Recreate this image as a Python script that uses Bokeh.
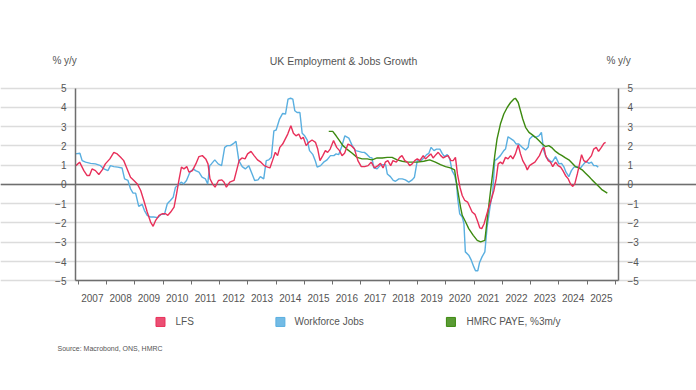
from bokeh.plotting import figure
from bokeh.models import (Range1d, LinearAxis, FixedTicker, CustomJSTickFormatter,
                          Label, Grid)
from bokeh.embed import file_html
from bokeh.resources import INLINE

# ---------------- data (decimal years, % y/y) ----------------
lfs_t = [2006.92, 2007.05, 2007.20, 2007.31, 2007.40, 2007.49, 2007.61, 2007.73, 2007.85, 2007.96,
         2008.12, 2008.26, 2008.38, 2008.50, 2008.61, 2008.73, 2008.85, 2008.97, 2009.09, 2009.21,
         2009.32, 2009.44, 2009.56, 2009.65, 2009.74, 2009.86, 2009.97, 2010.09, 2010.17, 2010.27,
         2010.39, 2010.48, 2010.56, 2010.65, 2010.74, 2010.84, 2010.92, 2011.04, 2011.16, 2011.27,
         2011.39, 2011.51, 2011.59, 2011.66, 2011.75, 2011.84, 2011.96, 2012.08, 2012.16, 2012.24,
         2012.36, 2012.51, 2012.60, 2012.69, 2012.79, 2012.90, 2012.99, 2013.11, 2013.22, 2013.34,
         2013.46, 2013.58, 2013.70, 2013.78, 2013.87, 2013.97, 2014.05, 2014.13, 2014.23, 2014.32,
         2014.41, 2014.52, 2014.61, 2014.70, 2014.80, 2014.88, 2014.96, 2015.06, 2015.15, 2015.27,
         2015.39, 2015.47, 2015.55, 2015.65, 2015.74, 2015.82, 2015.91, 2016.03, 2016.14, 2016.24,
         2016.33, 2016.42, 2016.54, 2016.65, 2016.77, 2016.89, 2017.01, 2017.13, 2017.25, 2017.36,
         2017.48, 2017.60, 2017.69, 2017.78, 2017.86, 2017.95, 2018.05, 2018.13, 2018.25, 2018.37,
         2018.45, 2018.55, 2018.64, 2018.72, 2018.81, 2018.90, 2018.99, 2019.08, 2019.20, 2019.28,
         2019.37, 2019.47, 2019.55, 2019.65, 2019.73, 2019.82, 2019.91, 2019.99, 2020.08, 2020.18,
         2020.26, 2020.34, 2020.41, 2020.50, 2020.58, 2020.67, 2020.77, 2020.85, 2020.93, 2021.03,
         2021.12, 2021.20, 2021.27, 2021.35, 2021.42, 2021.49, 2021.58, 2021.70, 2021.78, 2021.85,
         2021.93, 2022.01, 2022.11, 2022.20, 2022.29, 2022.37, 2022.46, 2022.56, 2022.64, 2022.72,
         2022.82, 2022.88, 2022.96, 2023.05, 2023.15, 2023.23, 2023.31, 2023.41, 2023.47, 2023.53,
         2023.62, 2023.70, 2023.78, 2023.88, 2023.97, 2024.06, 2024.14, 2024.23, 2024.33, 2024.41,
         2024.49, 2024.56, 2024.65, 2024.73, 2024.80, 2024.88, 2024.96, 2025.06, 2025.15, 2025.23,
         2025.32, 2025.40, 2025.50, 2025.59, 2025.65]
lfs_v = [0.98, 1.16, 0.72, 0.47, 0.47, 0.81, 0.72, 0.52, 0.76, 1.07,
         1.33, 1.67, 1.59, 1.41, 1.24, 0.81, 0.38, 0.21, 0.03, -0.31,
         -0.83, -1.43, -1.95, -2.17, -1.86, -1.60, -1.52, -1.52, -1.60, -1.43,
         -1.17, -0.48, 0.21, 0.90, 0.81, 0.93, 0.64, 0.72, 1.07, 1.45,
         1.50, 1.33, 1.07, 0.30, 0.03, -0.14, 0.21, 0.24, 0.12, -0.14,
         0.12, 0.21, 0.72, 1.24, 1.38, 1.33, 1.59, 1.72, 1.50, 1.28,
         1.16, 0.98, 0.90, 0.86, 1.24, 1.67, 1.50, 1.93, 2.10, 2.36,
         2.62, 3.05, 2.66, 2.53, 2.62, 2.36, 2.45, 2.02, 2.19, 2.31,
         2.19, 1.84, 1.24, 1.50, 1.76, 1.67, 1.84, 2.28, 1.93, 1.76,
         1.50, 1.62, 2.10, 2.02, 1.84, 1.24, 0.93, 0.93, 0.98, 1.16,
         0.86, 0.98, 1.10, 0.86, 1.16, 1.24, 0.98, 1.24, 1.16, 1.41,
         1.50, 1.24, 1.16, 0.98, 1.07, 1.24, 1.33, 1.24, 1.50, 1.33,
         1.45, 1.59, 1.38, 1.55, 1.67, 1.50, 1.38, 1.45, 1.50, 1.24,
         1.24, 1.41, 0.55, -0.14, -0.57, -0.83, -0.91, -1.17, -1.43, -1.55,
         -1.90, -2.25, -2.29, -2.05, -1.69, -1.34, -0.91, -0.31, 0.29, 1.07,
         1.16, 1.07, 1.41, 1.33, 1.50, 1.33, 1.59, 2.05, 1.59, 1.24,
         0.98, 0.76, 0.98, 1.07, 1.16, 1.33, 1.50, 1.84, 1.93, 1.50,
         1.24, 1.16, 0.93, 1.16, 0.98, 0.90, 0.72, 0.47, 0.29, 0.03,
         -0.10, 0.03, 0.55, 1.07, 1.55, 1.24, 1.16, 1.33, 1.50, 1.84,
         1.93, 1.72, 1.93, 2.14, 2.19]

wfj_t = [2006.90, 2007.06, 2007.14, 2007.26, 2007.44, 2007.61, 2007.79, 2007.91, 2008.05, 2008.14,
         2008.26, 2008.40, 2008.55, 2008.64, 2008.76, 2008.85, 2008.94, 2009.03, 2009.14, 2009.26,
         2009.34, 2009.44, 2009.56, 2009.67, 2009.82, 2009.93, 2010.05, 2010.15, 2010.26, 2010.36,
         2010.44, 2010.52, 2010.64, 2010.73, 2010.83, 2010.95, 2011.07, 2011.15, 2011.27, 2011.38,
         2011.50, 2011.58, 2011.65, 2011.71, 2011.83, 2011.95, 2012.07, 2012.18, 2012.27, 2012.38,
         2012.50, 2012.58, 2012.68, 2012.80, 2012.91, 2013.03, 2013.15, 2013.24, 2013.36, 2013.44,
         2013.56, 2013.65, 2013.74, 2013.83, 2013.92, 2014.00, 2014.12, 2014.23, 2014.33, 2014.42,
         2014.51, 2014.59, 2014.66, 2014.74, 2014.84, 2014.92, 2015.01, 2015.10, 2015.18, 2015.30,
         2015.39, 2015.45, 2015.57, 2015.68, 2015.80, 2015.92, 2016.04, 2016.12, 2016.21, 2016.31,
         2016.43, 2016.57, 2016.69, 2016.81, 2016.92, 2017.04, 2017.12, 2017.22, 2017.31, 2017.39,
         2017.45, 2017.57, 2017.67, 2017.78, 2017.87, 2017.93, 2018.04, 2018.14, 2018.22, 2018.34,
         2018.46, 2018.57, 2018.69, 2018.81, 2018.89, 2018.99, 2019.10, 2019.22, 2019.32, 2019.40,
         2019.48, 2019.58, 2019.67, 2019.79, 2019.87, 2019.95, 2020.05, 2020.14, 2020.22, 2020.31,
         2020.38, 2020.42, 2020.49, 2020.58, 2020.64, 2020.69, 2020.81, 2020.90, 2020.99, 2021.05,
         2021.13, 2021.19, 2021.28, 2021.38, 2021.46, 2021.58, 2021.66, 2021.73, 2021.81, 2021.93,
         2022.05, 2022.11, 2022.20, 2022.32, 2022.40, 2022.49, 2022.58, 2022.70, 2022.82, 2022.91,
         2022.96, 2023.08, 2023.17, 2023.29, 2023.38, 2023.46, 2023.55, 2023.67, 2023.76, 2023.88,
         2024.00, 2024.09, 2024.17, 2024.25, 2024.35, 2024.44, 2024.53, 2024.64, 2024.76, 2024.88,
         2024.96, 2025.06, 2025.15, 2025.23, 2025.32, 2025.39]
wfj_v = [1.59, 1.62, 1.24, 1.16, 1.10, 1.07, 0.98, 0.81, 0.72, 0.98,
         0.93, 0.90, 0.86, 0.29, 0.21, -0.22, -0.45, -0.45, -1.14, -1.03,
         -1.34, -1.60, -1.69, -1.69, -1.72, -1.55, -1.55, -1.00, -0.83, -0.66,
         -0.14, -0.05, 0.12, 0.03, 0.21, 0.64, 0.81, 0.72, 0.64, 0.38,
         0.29, 0.03, 0.98, 1.07, 1.28, 1.07, 0.98, 1.93, 2.02, 2.02,
         2.14, 2.24, 1.24, 0.93, 0.81, 0.98, 0.55, 0.21, 0.24, 0.41,
         0.29, 1.24, 1.28, 1.41, 2.79, 2.83, 3.40, 3.69, 3.66, 4.43,
         4.48, 4.43, 3.83, 3.74, 3.74, 2.66, 2.53, 2.31, 1.76, 1.55,
         1.21, 0.90, 0.98, 1.16, 1.28, 1.50, 1.50, 1.59, 1.55, 1.93,
         2.53, 2.41, 2.02, 1.76, 1.72, 1.67, 1.67, 1.55, 1.41, 1.38,
         0.86, 0.81, 0.98, 1.03, 1.03, 0.55, 0.41, 0.21, 0.17, 0.29,
         0.29, 0.24, 0.12, 0.24, 0.38, 1.24, 1.21, 1.38, 1.55, 1.62,
         1.93, 1.76, 1.84, 1.84, 1.62, 1.45, 1.55, 1.33, 0.72, 0.47,
         0.03, -0.74, -1.52, -1.69, -2.03, -3.50, -3.67, -3.93, -4.28, -4.48,
         -4.48, -4.07, -3.76, -3.50, -2.21, -1.00, -0.40, 1.24, 1.33, 1.50,
         1.76, 1.84, 2.48, 2.36, 2.28, 2.10, 2.10, 1.93, 1.79, 1.93,
         2.36, 2.53, 2.45, 2.53, 2.71, 1.76, 1.41, 1.24, 1.16, 1.45,
         1.07, 1.10, 0.93, 0.64, 0.41, 0.72, 0.90, 0.93, 0.86, 1.07,
         1.21, 1.10, 1.16, 0.98, 0.98, 0.90]

paye_t = [2015.86, 2016.00, 2016.12, 2016.24, 2016.36, 2016.50, 2016.69, 2016.86, 2017.04, 2017.22,
          2017.39, 2017.57, 2017.75, 2017.93, 2018.10, 2018.28, 2018.46, 2018.63, 2018.81, 2018.99,
          2019.22, 2019.43, 2019.63, 2019.81, 2019.99, 2020.16, 2020.31, 2020.40, 2020.52, 2020.58,
          2020.70, 2020.81, 2020.97, 2021.11, 2021.23, 2021.38, 2021.46, 2021.54, 2021.64, 2021.73,
          2021.81, 2021.93, 2022.05, 2022.17, 2022.29, 2022.40, 2022.46, 2022.56, 2022.64, 2022.72,
          2022.82, 2022.94, 2023.05, 2023.17, 2023.29, 2023.41, 2023.52, 2023.64, 2023.76, 2023.88,
          2024.00, 2024.11, 2024.23, 2024.35, 2024.47, 2024.58, 2024.70, 2024.82, 2024.94, 2025.06,
          2025.17, 2025.29, 2025.41, 2025.53, 2025.71]
paye_v = [2.76, 2.76, 2.53, 2.28, 2.02, 1.84, 1.62, 1.41, 1.33, 1.33,
          1.28, 1.38, 1.38, 1.41, 1.41, 1.28, 1.21, 1.16, 1.16, 1.16,
          1.21, 1.28, 1.16, 1.03, 0.93, 0.86, 0.76, -0.14, -1.17, -1.60,
          -1.95, -2.29, -2.64, -2.90, -2.98, -2.90, -1.86, -0.83, 0.38, 1.50,
          2.36, 3.14, 3.66, 4.00, 4.26, 4.43, 4.48, 4.26, 3.83, 3.40,
          2.97, 2.71, 2.59, 2.45, 2.28, 2.10, 1.97, 2.02, 1.90, 1.72,
          1.59, 1.50, 1.38, 1.28, 1.10, 0.93, 0.86, 0.76, 0.59, 0.41,
          0.24, 0.07, -0.10, -0.28, -0.45]

years = list(range(2007, 2026))
y_ticks = [-5, -4, -3, -2, -1, 0, 1, 2, 3, 4, 5]
series_names = ["LFS", "Workforce Jobs", "HMRC PAYE, %3m/y"]
title_text = "UK Employment & Jobs Growth"
unit_text = "% y/y"
source_text = "Source: Macrobond, ONS, HMRC"

# ---------------- styling / layout ----------------
C_LFS = "#e8305a"
C_WFJ = "#5aafe0"
C_PAYE = "#3d8a10"
TXT = "#555555"
AX = "#6e6e6e"
FONT = "Liberation Sans"

X0, X1 = 2006.905, 2026.107          # plot-area edges (years)
Y0, Y1 = -5, 5

# the frame spans the whole canvas; axes are pinned at the plot-area edges
p = figure(width=696, height=390, output_backend="svg", toolbar_location=None,
           x_range=Range1d(2004.2525, 2028.864), y_range=Range1d(-10.701, 9.558),
           min_border=0, x_axis_location=None, y_axis_location=None)
p.outline_line_color = None
p.background_fill_color = "white"
p.border_fill_color = "white"
p.grid.visible = False

# grid lines
p.add_layout(Grid(dimension=1, ticker=FixedTicker(ticks=y_ticks), bounds=(X0, X1),
                  grid_line_color="#dcdcdc", grid_line_width=1.5))
p.add_layout(Grid(dimension=1, ticker=FixedTicker(ticks=[0]), bounds=(X0, X1),
                  grid_line_color=AX, grid_line_width=1.5))

# x axis
xa = LinearAxis(fixed_location=Y0, bounds=(X0, X1),
                ticker=FixedTicker(ticks=[y + 0.5 for y in years],
                                   minor_ticks=years + [years[-1] + 1]),
                formatter=CustomJSTickFormatter(code="return Math.floor(tick).toString();"))
xa.major_tick_out = 0
xa.major_tick_in = 0
xa.minor_tick_out = 4
xa.minor_tick_in = 0
xa.minor_tick_line_color = AX
xa.axis_line_color = AX
xa.axis_line_width = 1.5
xa.major_label_standoff = 9
xa.major_label_text_font = FONT
xa.major_label_text_font_size = "10px"
xa.major_label_text_color = TXT
p.add_layout(xa, "below")

# y axes
for loc, side in ((X0, "left"), (X1, "right")):
    ax = LinearAxis(fixed_location=loc, bounds=(Y0, Y1), ticker=FixedTicker(ticks=y_ticks))
    ax.major_tick_out = 0
    ax.major_tick_in = 0
    ax.minor_tick_out = 0
    ax.minor_tick_in = 0
    ax.axis_line_color = AX
    ax.axis_line_width = 1.5
    ax.major_label_standoff = 9
    ax.major_label_text_font = FONT
    ax.major_label_text_font_size = "10px"
    ax.major_label_text_color = TXT
    p.add_layout(ax, side)

# lines
p.line(wfj_t, wfj_v, line_color=C_WFJ, line_width=1.4)
p.line(paye_t, paye_v, line_color=C_PAYE, line_width=1.4)
p.line(lfs_t, lfs_v, line_color=C_LFS, line_width=1.4)

def lab(x, y, text, size="10px", align="left", color=TXT):
    p.add_layout(Label(x=x, y=y, text=text, text_font=FONT, text_font_size=size,
                       text_color=color, text_align=align, text_baseline="middle"))

# titles
lab(2016.38, 6.44, title_text, size="10.5px", align="center")
lab(2006.52, 6.44, unit_text, align="center")
lab(2026.11, 6.44, unit_text, align="center")

# legend
sw_y = -7.14
legend_pos = [(2009.91, 2010.44), (2014.15, 2014.65), (2020.18, 2020.73)]
for (sx, tx), name, col in zip(legend_pos, series_names, [C_LFS, C_WFJ, C_PAYE]):
    p.scatter([sx], [sw_y], marker="square", size=9, fill_color=col, line_color=col,
              fill_alpha=0.85)
    lab(tx, sw_y, name)

# source
lab(2006.27, -8.5, source_text, size="7px")

open("out.html", "w").write(file_html(p, INLINE))
